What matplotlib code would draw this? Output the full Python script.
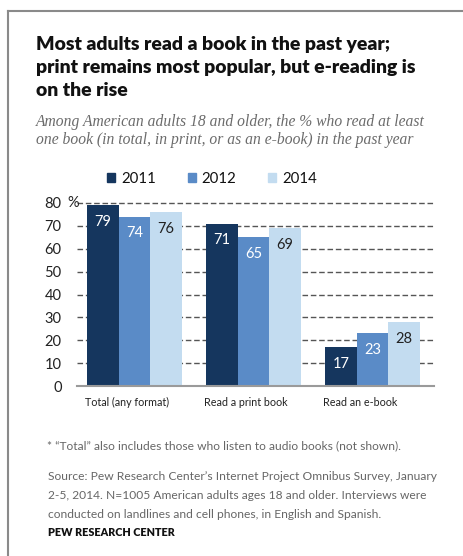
import matplotlib
matplotlib.use("Agg")
import matplotlib.pyplot as plt
from matplotlib.lines import Line2D
import numpy as np

W, H = 463, 556

categories = ["Total (any format)", "Read a print book", "Read an e-book"]
years = ["2011", "2012", "2014"]
values = {
    "2011": [79, 71, 17],
    "2012": [74, 65, 23],
    "2014": [76, 69, 28],
}
colors = {"2011": "#15365E", "2012": "#5A8BC7", "2014": "#C3DCF0"}
label_colors = {"2011": "white", "2012": "white", "2014": "#222222"}
yticks = [0, 10, 20, 30, 40, 50, 60, 70, 80]

title_lines = [
    "Most adults read a book in the past year;",
    "print remains most popular, but e-reading is",
    "on the rise",
]
subtitle_lines = [
    "Among American adults 18 and older, the % who read at least",
    "one book (in total, in print, or as an e-book) in the past year",
]
footnote = "* \u201cTotal\u201d also includes those who listen to audio books (not shown)."
source_lines = [
    "Source: Pew Research Center\u2019s Internet Project Omnibus Survey, January",
    "2-5, 2014. N=1005 American adults ages 18 and older. Interviews were",
    "conducted on landlines and cell phones, in English and Spanish.",
]
credit = "PEW RESEARCH CENTER"

plt.rcParams["font.family"] = ["Lato", "DejaVu Sans"]

fig = plt.figure(figsize=(W / 100, H / 100), dpi=100)
fig.patch.set_facecolor("white")
renderer = fig.canvas.get_renderer()


def fx(px):
    return px / W


def fy(py):
    return 1 - py / H


def fit_size(text, width_px, **kw):
    # font size that makes a line span the reference width (a few passes for hinting)
    size = 10.0
    for _ in range(3):
        t = fig.text(0, 0, text, fontsize=size, **kw)
        w = t.get_window_extent(renderer).width
        t.remove()
        size *= width_px / w
    return size


# frame on the left and top
fig.add_artist(Line2D([fx(8), fx(8)], [fy(11), 0], transform=fig.transFigure,
                      color="#8a8a8a", lw=1.5))
fig.add_artist(Line2D([fx(8), 1], [fy(11), fy(11)], transform=fig.transFigure,
                      color="#8a8a8a", lw=1.5))

ts = fit_size(title_lines[0], 354, fontweight="heavy")
for i, line in enumerate(title_lines):
    fig.text(fx(36), fy(50 + 23 * i), line, fontsize=ts, fontweight="heavy",
             color="#111111", va="baseline", ha="left")

ss = fit_size(subtitle_lines[0], 390, style="italic", family="Liberation Serif")
for i, line in enumerate(subtitle_lines):
    fig.text(fx(36), fy(126 + 18.5 * i), line, fontsize=ss, style="italic",
             family="Liberation Serif", color="#6b6b6b", va="baseline", ha="left")

# axes: y 0 at 386 px, 80 at 203 px; x from 77 to 434 px
ax = fig.add_axes([fx(77), fy(386), fx(434) - fx(77), (386 - 203) / H])
x = np.arange(len(categories))
bw = 0.265
for k, yr in enumerate(years):
    pos = x + (k - 1) * bw
    ax.bar(pos, values[yr], width=bw, color=colors[yr], label=yr, zorder=3)
    for xi, v in zip(pos, values[yr]):
        ax.text(xi, v - 7.3, f"{v}", ha="center", va="center", fontsize=10.5,
                color=label_colors[yr], zorder=4)

ax.set_xlim(-0.483, 2.517)
ax.set_ylim(0, 80)
for t in yticks[1:]:
    ax.axhline(t, color="#555555", lw=1.0, ls=(0, (4, 2)), zorder=1, clip_on=False)
ax.axhline(0, color="#9a9a9a", lw=1.5, zorder=4, clip_on=False)

xs = fit_size(categories[0], 85)
ax.set_yticks(yticks)
ax.set_yticklabels([str(t) for t in yticks])
# category labels sit left-aligned near the first bar of each group
ax.set_xticks(x - 1.5 * bw - 0.015)
ax.set_xticklabels(categories, ha="left")
ax.tick_params(axis="y", length=0, pad=11, labelsize=10.5, labelcolor="#222222")
ax.tick_params(axis="x", length=0, pad=8, labelsize=xs, labelcolor="#222222")
for s in ax.spines.values():
    s.set_visible(False)
ax.text(-0.483 - 10 / 119, 80, "%", ha="left", va="center", fontsize=10.5, color="#222222")

handles = [plt.Rectangle((0, 0), 1, 1, color=colors[yr]) for yr in years]
fig.legend(handles, years, loc="center", bbox_to_anchor=(fx(212), fy(179)), ncol=3,
           frameon=False, fontsize=10.8, handlelength=0.55, handleheight=0.55,
           handletextpad=0.4, columnspacing=2.1, labelcolor="#111111")

fs = fit_size(source_lines[0], 386)
fig.text(fx(47), fy(446), footnote, fontsize=fs, color="#666666", va="center")
for i, line in enumerate(source_lines):
    fig.text(fx(48), fy(477 + 18.5 * i), line, fontsize=fs, color="#666666", va="center")
cs = fit_size(credit, 125, fontweight="heavy")
fig.text(fx(48), fy(532), credit, fontsize=cs, fontweight="heavy", color="#111111", va="center")

fig.savefig("out.png", dpi=100)
